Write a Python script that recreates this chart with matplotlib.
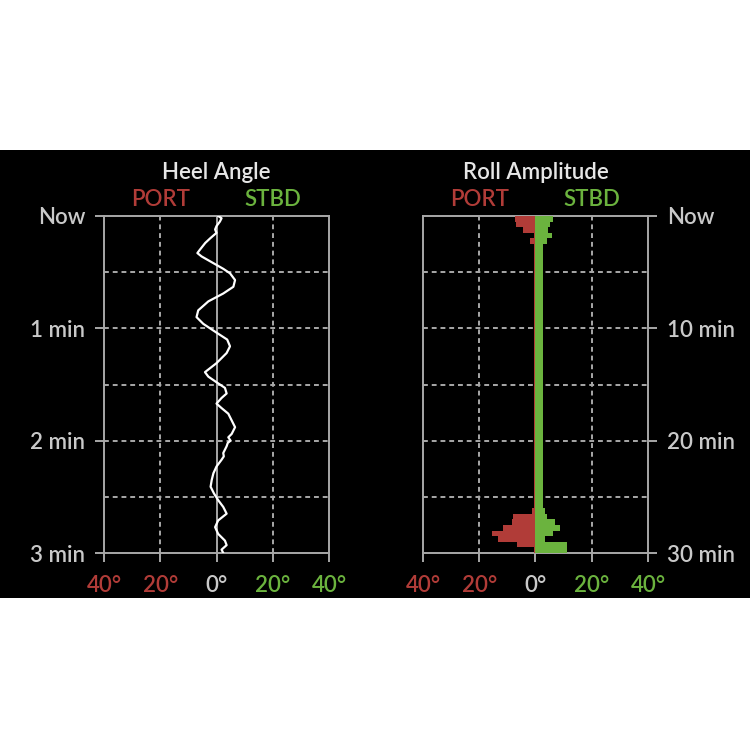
import matplotlib
matplotlib.use("Agg")
import matplotlib.pyplot as plt
from matplotlib.patches import Rectangle
import matplotlib.transforms as mtransforms

# ---------------- data ----------------
heel_time = [0.00, 0.02, 0.05, 0.09, 0.12, 0.15, 0.20, 0.24, 0.30, 0.33, 0.36, 0.42,
             0.47, 0.51, 0.57, 0.63, 0.69, 0.76, 0.84, 0.90, 0.96, 1.03, 1.10, 1.16,
             1.22, 1.31, 1.39, 1.43, 1.48, 1.53, 1.58, 1.62, 1.67, 1.71, 1.76, 1.82,
             1.88, 1.94, 1.97, 2.00, 2.02, 2.05, 2.08, 2.11, 2.14, 2.17, 2.23, 2.29,
             2.35, 2.41, 2.47, 2.53, 2.59, 2.65, 2.71, 2.77, 2.83, 2.89, 2.93, 2.97, 3.00]
heel_deg = [0.6, 1.8, 1.2, 0.0, -0.5, 0.0, -2.3, -4.0, -5.9, -6.8, -5.3, -1.1,
            2.4, 4.8, 6.6, 6.0, 2.4, -2.9, -6.5, -7.1, -4.7, -0.5, 3.8, 4.8,
            3.6, 0.0, -4.1, -2.9, 0.0, 3.0, 3.6, 1.8, 0.0, 1.8, 4.2, 5.4,
            6.6, 5.4, 4.2, 5.0, 4.0, 3.6, 3.0, 2.4, 2.6, 1.8, 0.0, -1.1,
            -1.7, -2.1, -0.9, 0.6, 2.4, 3.6, 0.6, -0.5, 0.6, 3.0, 3.6, 1.8, 2.4]

roll_time = [0.25, 0.75, 1.25, 1.75, 2.25, 2.75, 3.25, 3.75, 4.25, 4.75,
             5.25, 5.75, 6.25, 6.75, 7.25, 7.75, 8.25, 8.75, 9.25, 9.75,
             10.25, 10.75, 11.25, 11.75, 12.25, 12.75, 13.25, 13.75, 14.25, 14.75,
             15.25, 15.75, 16.25, 16.75, 17.25, 17.75, 18.25, 18.75, 19.25, 19.75,
             20.25, 20.75, 21.25, 21.75, 22.25, 22.75, 23.25, 23.75, 24.25, 24.75,
             25.25, 25.75, 26.25, 26.75, 27.25, 27.75, 28.25, 28.75, 29.25, 29.75]
roll_port = [-7.2, -6.8, -4.3, -0.6, -1.9, -0.6, -0.6, -0.6, -0.6, -0.6,
             -0.6, -0.6, -0.6, -0.6, -0.6, -0.6, -0.6, -0.6, -0.6, -0.6,
             -0.6, -0.6, -0.6, -0.6, -0.6, -0.6, -0.6, -0.6, -0.6, -0.6,
             -0.6, -0.6, -0.6, -0.6, -0.6, -0.6, -0.6, -0.6, -0.6, -0.6,
             -0.6, -0.6, -0.6, -0.6, -0.6, -0.6, -0.6, -0.6, -0.6, -0.6,
             -0.6, -0.6, -1.4, -7.9, -8.5, -11.4, -15.5, -13.5, -6.5, -0.6]
roll_stbd = [6.4, 5.2, 4.6, 5.8, 4.0, 2.8, 2.8, 2.8, 2.8, 2.8,
             2.8, 2.8, 2.8, 2.8, 2.8, 2.8, 2.8, 2.8, 2.8, 2.8,
             2.8, 2.8, 2.8, 2.8, 2.8, 2.8, 2.8, 2.8, 2.8, 2.8,
             2.8, 2.8, 2.8, 2.8, 2.8, 2.8, 2.8, 2.8, 2.8, 2.8,
             2.8, 2.8, 2.8, 2.8, 2.8, 2.8, 2.8, 2.8, 2.8, 2.8,
             2.8, 2.8, 3.4, 4.0, 6.9, 8.7, 6.3, 3.4, 11.3, 11.3]

x_ticks = [-40, -20, 0, 20, 40]
x_labels = ["40°", "20°", "0°", "20°", "40°"]
heel_yticks = [0, 1, 2, 3]
heel_ylabels = ["Now", "1 min", "2 min", "3 min"]
roll_yticks = [0, 10, 20, 30]
roll_ylabels = ["Now", "10 min", "20 min", "30 min"]

# ---------------- style ----------------
FONT = ["Lato", "DejaVu Sans"]
plt.rcParams["font.family"] = FONT
RED = "#b13c38"
GREEN = "#6bb33e"
GRID = "#a8a8a8"
TXT = "#c9c9c9"
TITLE = "#e6e6e6"
FS = 16
WEIGHT = "semibold"

fig = plt.figure(figsize=(7.5, 7.5), dpi=100)
fig.patch.set_facecolor("white")
bg = Rectangle((0, 1 - 598 / 750), 1, 448 / 750, transform=fig.transFigure,
               facecolor="black", edgecolor="none", zorder=-10)
fig.add_artist(bg)

ax1 = fig.add_axes([104 / 750, 1 - 553 / 750, 225 / 750, 337 / 750])
ax2 = fig.add_axes([423 / 750, 1 - 553 / 750, 225 / 750, 337 / 750])

DASH = (0, (2.5, 2))


def style(ax, tmax, step, yticks, ylabels, side, title):
    ax.set_facecolor("black")
    ax.set_xlim(-40, 40)
    ax.set_ylim(tmax, 0)
    for s in ax.spines.values():
        s.set_color(GRID)
        s.set_linewidth(1.4)
    for gx in [-20, 20]:
        ax.axvline(gx, color=GRID, lw=1.4, ls=DASH, zorder=1)
    k = 1
    while k * step < tmax - 1e-9:
        ax.axhline(k * step, color=GRID, lw=1.4, ls=DASH, zorder=1)
        k += 1
    ax.axvline(0, color=GRID, lw=1.4, zorder=1)
    ax.set_xticks(x_ticks)
    ax.set_xticklabels(x_labels, fontsize=FS, fontweight=WEIGHT)
    for lbl, v in zip(ax.get_xticklabels(), x_ticks):
        lbl.set_color(RED if v < 0 else (GREEN if v > 0 else TXT))
    ax.set_yticks(yticks)
    ax.set_yticklabels(ylabels, fontsize=FS, color=TXT, fontweight=WEIGHT)
    ax.tick_params(axis="both", length=6.5, width=1.4, color=GRID)
    ax.tick_params(axis="x", pad=9)
    ax.tick_params(axis="y", pad=7)
    if side == "right":
        ax.yaxis.tick_right()
        ax.yaxis.set_label_position("right")
    trans = mtransforms.blended_transform_factory(ax.transData, ax.transAxes)
    ax.text(0, 1.13, title, transform=trans, ha="center", va="center",
            fontsize=FS, color=TITLE, fontweight=WEIGHT)
    ax.text(-20, 1.05, "PORT", transform=trans, ha="center", va="center",
            fontsize=FS, color=RED, fontweight=WEIGHT)
    ax.text(20, 1.05, "STBD", transform=trans, ha="center", va="center",
            fontsize=FS, color=GREEN, fontweight=WEIGHT)


style(ax1, 3, 0.5, heel_yticks, heel_ylabels, "left", "Heel Angle")
style(ax2, 30, 5, roll_yticks, roll_ylabels, "right", "Roll Amplitude")

ax1.plot(heel_deg, heel_time, color="white", lw=1.6, zorder=3,
         solid_joinstyle="round")

ax2.barh(roll_time, roll_port, height=0.5, color=RED, zorder=3, linewidth=0)
ax2.barh(roll_time, roll_stbd, height=0.5, color=GREEN, zorder=3, linewidth=0)

fig.savefig("out.png", dpi=100, facecolor=fig.get_facecolor())
